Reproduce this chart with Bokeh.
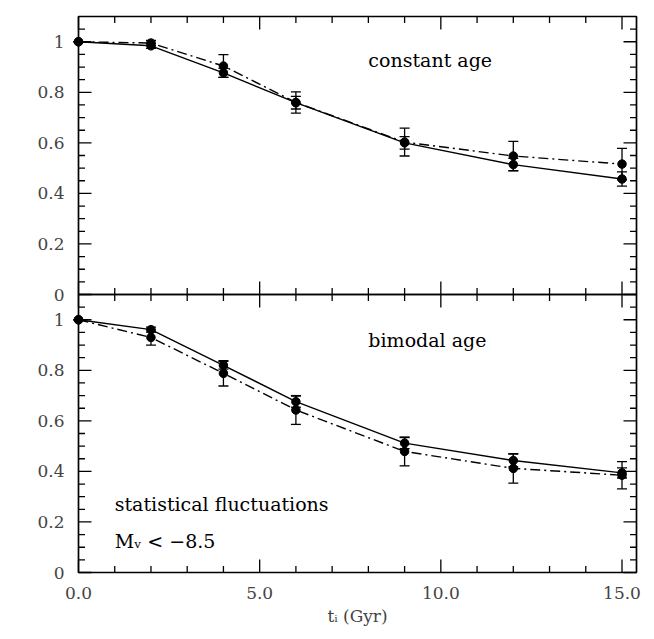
import math
from bokeh.plotting import figure
from bokeh.models import (ColumnDataSource, Whisker, TeeHead, Range1d,
                          FixedTicker, Label)
from bokeh.embed import file_html
from bokeh.resources import INLINE

# ---------------- data ----------------
t_i = [0, 2, 4, 6, 9, 12, 15]

# top panel: constant age
const_solid = [1.0, 0.984, 0.877, 0.759, 0.600, 0.514, 0.457]
const_solid_err = [0.0, 0.010, 0.018, 0.025, 0.025, 0.025, 0.028]
const_dash = [1.0, 0.995, 0.904, 0.760, 0.603, 0.548, 0.516]
const_dash_err = [0.0, 0.010, 0.045, 0.042, 0.055, 0.058, 0.062]

# bottom panel: bimodal age
bimod_solid = [1.0, 0.961, 0.820, 0.676, 0.512, 0.443, 0.394]
bimod_solid_err = [0.0, 0.010, 0.015, 0.022, 0.022, 0.025, 0.020]
bimod_dash = [1.0, 0.930, 0.788, 0.643, 0.479, 0.412, 0.385]
bimod_dash_err = [0.0, 0.030, 0.050, 0.057, 0.057, 0.058, 0.054]

x_major = [0, 5, 10, 15]
x_minor = [v for v in range(0, 16) if v not in x_major]
y_major = [0, 0.2, 0.4, 0.6, 0.8, 1.0]
y_minor = [0.05, 0.1, 0.15, 0.25, 0.3, 0.35, 0.45, 0.5, 0.55,
           0.65, 0.7, 0.75, 0.85, 0.9, 0.95, 1.05]
y_labels = ["0", "0.2", "0.4", "0.6", "0.8", "1"]
x_labels = ["0.0", "5.0", "10.0", "15.0"]

PANEL_H = 1.1     # height of each panel in its own units
X_MAX = 15.4
SERIF = "DejaVu Serif"

# geometry (style): panel box of 558 x (2*278) px, 14 px of white padding
BOX_W, PANEL_PX, PAD = 558, 278, 14
PX = PAD * X_MAX / BOX_W
PY = PAD * PANEL_H / PANEL_PX
TY_MAJ, TY_MIN = 13 * PANEL_H / PANEL_PX, 6.5 * PANEL_H / PANEL_PX
TX_MAJ, TX_MIN = 13 * X_MAX / BOX_W, 6.5 * X_MAX / BOX_W

p = figure(frame_width=BOX_W + 2 * PAD, frame_height=2 * PANEL_PX + 2 * PAD,
           x_range=Range1d(-PX, X_MAX + PX),
           y_range=Range1d(-PY, 2 * PANEL_H + PY),
           output_backend="svg", toolbar_location=None,
           min_border_left=64, min_border_right=2,
           min_border_top=2, min_border_bottom=2)
p.extra_y_ranges = {"top": Range1d(-PANEL_H - PY, PANEL_H + PY)}
p.grid.visible = False
p.outline_line_color = None

# ---- axes (labels only) ----
xa = p.xaxis[0]
xa.ticker = FixedTicker(ticks=x_major, minor_ticks=[])
xa.major_label_overrides = {v: s for v, s in zip(x_major, x_labels)}
xa.major_tick_in = xa.major_tick_out = 0
xa.minor_tick_in = xa.minor_tick_out = 0
xa.axis_line_color = None
xa.major_label_text_font = SERIF
xa.major_label_text_font_size = "17px"
xa.major_label_standoff = 0
xa.axis_label = "tᵢ (Gyr)"
xa.axis_label_text_font = SERIF
xa.axis_label_text_font_style = "normal"
xa.axis_label_text_font_size = "17px"
xa.axis_label_standoff = 4

ya = p.yaxis[0]
bottom_pos = list(y_major)
top_pos = [round(v + PANEL_H, 3) for v in y_major]
overrides = {}
for v, s in zip(bottom_pos, y_labels):
    overrides[v] = s
for v, s in zip(top_pos, y_labels):
    overrides[v] = s
ya.ticker = FixedTicker(ticks=bottom_pos + top_pos, minor_ticks=[])
ya.major_label_overrides = overrides
ya.major_tick_in = ya.major_tick_out = 0
ya.minor_tick_in = ya.minor_tick_out = 0
ya.axis_line_color = None
ya.major_label_text_font = SERIF
ya.major_label_text_font_size = "17px"
ya.major_label_standoff = 0


# ---- panel boxes and inward tick marks ----
def seg(x0, y0, x1, y1, rng):
    p.segment(x0=x0, y0=y0, x1=x1, y1=y1, line_color="black",
              line_width=1.3, y_range_name=rng)


for rng in ("default", "top"):
    for xs, L in ((x_major, TY_MAJ), (x_minor, TY_MIN)):
        n = len(xs)
        seg(xs, [0] * n, xs, [L] * n, rng)
        seg(xs, [PANEL_H] * n, xs, [PANEL_H - L] * n, rng)
    for ys, L in ((y_major, TX_MAJ), (y_minor, TX_MIN)):
        n = len(ys)
        seg([0] * n, ys, [L] * n, ys, rng)
        seg([X_MAX] * n, ys, [X_MAX - L] * n, ys, rng)
    p.quad(left=[0], right=[X_MAX], bottom=[0], top=[PANEL_H],
           fill_color=None, line_color="black", line_width=1.7,
           y_range_name=rng)


def draw_panel(solid, solid_err, dash, dash_err, rng):
    src = ColumnDataSource(dict(
        x=t_i, s=solid, s_lo=[a - b for a, b in zip(solid, solid_err)],
        s_hi=[a + b for a, b in zip(solid, solid_err)],
        d=dash, d_lo=[a - b for a, b in zip(dash, dash_err)],
        d_hi=[a + b for a, b in zip(dash, dash_err)]))
    p.line("x", "s", source=src, line_color="black", line_width=1.4,
           y_range_name=rng)
    p.line("x", "d", source=src, line_color="black", line_width=1.4,
           line_dash="10 4 2 4", y_range_name=rng)
    for lo, hi in (("s_lo", "s_hi"), ("d_lo", "d_hi")):
        p.add_layout(Whisker(source=src, base="x", lower=lo, upper=hi,
                             y_range_name=rng, line_color="black", line_width=1.3,
                             upper_head=TeeHead(size=10, line_color="black", line_width=1.3),
                             lower_head=TeeHead(size=10, line_color="black", line_width=1.3)))
    p.scatter("x", "s", source=src, size=8.5, color="black", y_range_name=rng)
    p.scatter("x", "d", source=src, size=8.5, color="black", y_range_name=rng)


draw_panel(const_solid, const_solid_err, const_dash, const_dash_err, "top")
draw_panel(bimod_solid, bimod_solid_err, bimod_dash, bimod_dash_err, "default")

lab = dict(text_font=SERIF, text_font_size="19px", text_baseline="middle",
           text_align="left", text_color="black")
p.add_layout(Label(x=8.0, y=0.926, y_range_name="top", text="constant age", **lab))
p.add_layout(Label(x=8.0, y=0.92, text="bimodal age", **lab))
p.add_layout(Label(x=1.0, y=0.27, text="statistical fluctuations", **lab))
p.add_layout(Label(x=1.0, y=0.123, text="Mᵥ < −8.5", **lab))

ylab = dict(text_font=SERIF, text_font_size="18px", text_baseline="middle",
            text_align="center", angle=math.pi / 2, text_color="black")
p.add_layout(Label(x=-1.65, y=0.55, y_range_name="top", text="N (t>tᵢ)", **ylab))
p.add_layout(Label(x=-1.65, y=0.55, text="N (t>tᵢ)", **ylab))

open("out.html", "w").write(file_html(p, INLINE))
